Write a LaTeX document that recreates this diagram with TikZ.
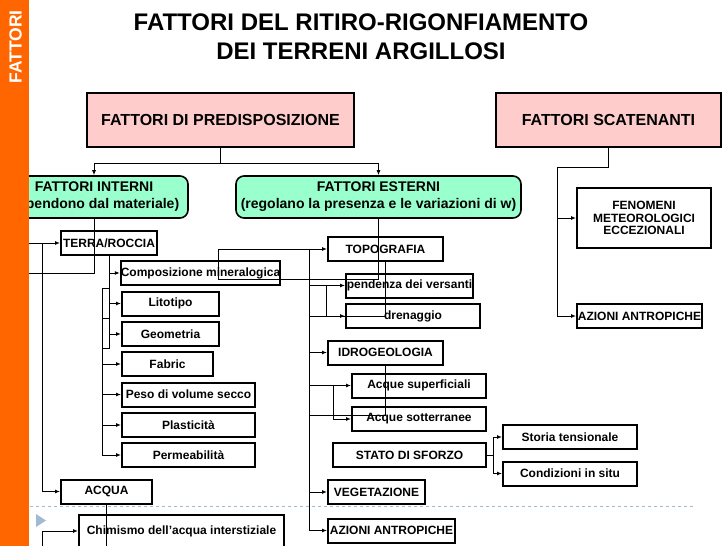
\documentclass[tikz,border=0pt]{standalone}
\usepackage{fontspec}
\setmainfont{Liberation Sans}
\usetikzlibrary{arrows.meta}
\definecolor{barorange}{RGB}{255,102,0}
\definecolor{boxpink}{RGB}{255,204,204}
\definecolor{boxgreen}{RGB}{153,255,204}
\definecolor{rulegray}{RGB}{160,186,210}

\begin{document}
\begin{tikzpicture}[x=1pt,y=-1pt,
    >={Latex[length=5pt,width=4pt]},
    line width=1pt,
    headbox/.style={
% The shape:
rectangle,
% The size:
minimum height=54pt,
inner sep=0pt,
% The border:
line width=2pt, draw, fill=boxpink,
font=\fontsize{16}{19}\selectfont\bfseries
},
    groupbox/.style={
% The shape:
rectangle, rounded corners=8pt,
% The size:
minimum height=42pt,
inner sep=0pt,
% The border:
line width=1.6pt, draw, fill=boxgreen,
align=center,
font=\fontsize{14}{17}\selectfont\bfseries
},
    itembox/.style={
% The shape:
rectangle,
% The size:
minimum height=24pt,
inner sep=0pt,
% The border:
line width=2pt, draw,
align=center,
font=\fontsize{12}{14.5}\selectfont\bfseries
},
]
  \useasboundingbox (0,0) rectangle (728,546);
  \draw[rulegray, dashed, line width=0.8pt] (30,506) -- (695,506);
  \fill[rulegray] (36,514) -- (36,527) -- (46,520.5) -- cycle;

  \node[font=\fontsize{24}{29}\selectfont\bfseries, align=center] (title) at (361, 37) {FATTORI DEL RITIRO-RIGONFIAMENTO\\DEI TERRENI ARGILLOSI};

  \node[headbox, minimum width=267pt]     (pred) at (220.5, 120)   {FATTORI DI PREDISPOSIZIONE};
  \node[headbox, minimum width=225pt]     (scat) at (608.5, 119.5) {FATTORI SCATENANTI};
  \node[groupbox, minimum width=188pt]    (interni) at (94, 197)   {FATTORI INTERNI\\(dipendono dal materiale)};
  \node[groupbox, minimum width=285pt]    (esterni) at (378.5, 197) {FATTORI ESTERNI\\(regolano la presenza e le variazioni di w)};

  % scatenanti
  \node[itembox, minimum width=134pt, minimum height=60pt] (fenom) at (644, 218) {FENOMENI\\[-2pt]METEOROLOGICI\\[-2pt]ECCEZIONALI};
  \node[itembox, minimum width=125pt]     (azright) at (639.5, 316) {AZIONI ANTROPICHE};

  % interni
  \node[itembox, minimum width=96pt]      (terra) at (109, 243)    {TERRA/ROCCIA};
  \node[itembox, minimum width=157pt]     (comp) at (200.5, 273)   {Composizione mineralogica};
  \node[itembox, minimum width=97pt]      (lito) at (170.5, 303.5) {Litotipo};
  \node[itembox, minimum width=97pt]      (geom) at (170.5, 334)   {Geometria};
  \node[itembox, minimum width=91pt]      (fabric) at (167.5, 364) {Fabric};
  \node[itembox, minimum width=133pt]     (peso) at (188.5, 394.5) {Peso di volume secco};
  \node[itembox, minimum width=133pt]     (plast) at (188.5, 425)  {Plasticità};
  \node[itembox, minimum width=133pt]     (perm) at (188.5, 455)   {Permeabilità};
  \node[itembox, minimum width=91pt]      (acqua) at (106.5, 491.5) {ACQUA};
  \node[itembox, minimum width=205pt, minimum height=32pt] (chim) at (181.5, 531) {Chimismo dell’acqua interstiziale};

  % esterni
  \node[itembox, minimum width=115pt]     (topo) at (385.5, 249)   {TOPOGRAFIA};
  \node[itembox, minimum width=127pt]     (pend) at (409.5, 285.5) {pendenza dei versanti};
  \node[itembox, minimum width=134pt]     (dren) at (413, 316)     {drenaggio};
  \node[itembox, minimum width=115pt]     (idro) at (385.5, 352.5) {IDROGEOLOGIA};
  \node[itembox, minimum width=134pt]     (asup) at (419, 385.5)   {Acque superficiali};
  \node[itembox, minimum width=134pt]     (asott) at (419, 419)    {Acque sotterranee};
  \node[itembox, minimum width=153pt]     (stato) at (409.5, 455)  {STATO DI SFORZO};
  \node[itembox, minimum width=134pt]     (storia) at (570, 437)   {Storia tensionale};
  \node[itembox, minimum width=134pt]     (cond) at (570, 473.5)   {Condizioni in situ};
  \node[itembox, minimum width=97pt]      (veg) at (376.5, 492)    {VEGETAZIONE};
  \node[itembox, minimum width=127pt]     (azleft) at (391.5, 530.5) {AZIONI ANTROPICHE};

  \coordinate (intL)  at (20, 273);
  \coordinate (terL)  at (42, 243);
  \coordinate (chimL) at (42, 560);
  \coordinate (bot)   at (0, 560);
  \coordinate (ta)    at (102, 288);
  \coordinate (tb)    at (102, 318);
  \coordinate (tc)    at (102, 348);
  \coordinate (estL)  at (218, 279);
  \coordinate (e1)    at (309, 249);
  \coordinate (pb)    at (326, 285.5);
  \coordinate (ib)    at (333, 385.5);
  \coordinate (sb)    at (493, 455);
  \coordinate (sc)    at (557, 167);

  \draw[->] (pred.south) -- ++(0,15) -| (interni.north);
  \draw[->] (pred.south) -- ++(0,15) -| (esterni.north);
  \draw (scat.south) |- (sc);
  \draw[->] (sc) |- (fenom.west);
  \draw[->] (sc) |- (azright.west);

  \draw[->] (interni.south) |- (intL) |- (terra.west);
  \draw[->] (terL) |- (acqua.west);
  \draw[->] (chimL) |- (chim.west);
  \draw (acqua.south) -- (acqua.south |- bot);
  \draw (terra.south) |- (tc);
  \draw (ta) -- (terra.south |- ta);
  \draw (tb) -- (terra.south |- tb);
  \draw[->] (terra.south) |- (comp.west);
  \draw[->] (terra.south) |- (lito.west);
  \draw[->] (terra.south) |- (geom.west);
  \draw[->] (ta) |- (fabric.west);
  \draw[->] (ta) |- (peso.west);
  \draw[->] (ta) |- (plast.west);
  \draw[->] (ta) |- (perm.west);

  \draw[->] (esterni.south) |- (estL) |- (topo.west);
  \draw[->] (e1) |- (pend.west);
  \draw[->] (pb) |- (dren.west);
  \draw (topo.south) |- (e1 |- dren.west);
  \draw[->] (e1) |- (idro.west);
  \draw[->] (e1) |- (asup.west);
  \draw[->] (ib) |- (asott.west);
  \draw (idro.south) |- (e1 |- 0,415);
  \draw[->] (e1) |- (veg.west);
  \draw[->] (e1) |- (azleft.west);
  \draw (stato.east) -- (sb);
  \draw[->] (sb) |- (storia.west);
  \draw[->] (sb) |- (cond.west);

  \fill[barorange] (0,0) rectangle (29,546);
  \node[rotate=90, text=white, font=\fontsize{17.5}{20}\selectfont\bfseries] (bartitle) at (15.5, 47) {FATTORI};
\end{tikzpicture}
\end{document}
